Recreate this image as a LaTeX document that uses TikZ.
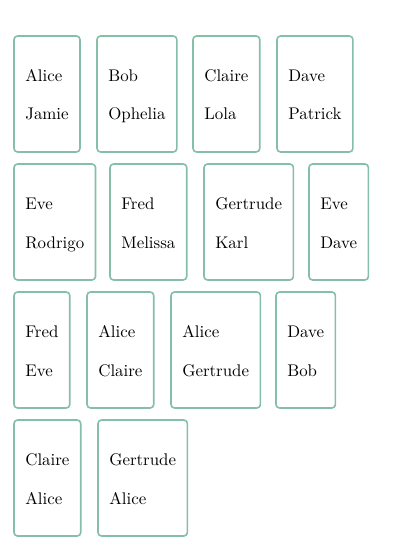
\documentclass[tikz,border=0pt]{standalone}
\usetikzlibrary{fit}
\definecolor{cardline}{RGB}{134,191,167}
\tikzset{
  nm/.style={anchor=base west, inner sep=0pt, font=\normalsize},
  card/.style={draw=cardline, line width=0.95pt, rounded corners=2.1pt, inner xsep=6.52pt, inner ysep=0pt}
}
\newcommand\mycard[5]{%
  \node[nm] (#1a) at (#2+11,#3+45.7) {#4};
  \node[nm] (#1b) at (#2+11,#3+84) {#5};
  \node[card, fit={(#1a)(#1b)(#2+11,#3)(#2+11,#3+116)}] (#1) {};
}
\begin{document}
\begin{tikzpicture}[x=0.593pt,y=-0.593pt]
\useasboundingbox (0,0) rectangle (400,550);
\mycard{c1}{14}{36}{Alice}{Jamie}
\mycard{c2}{97}{36}{Bob}{Ophelia}
\mycard{c3}{193}{36}{Claire}{Lola}
\mycard{c4}{277}{36}{Dave}{Patrick}
\mycard{c5}{14}{164}{Eve}{Rodrigo}
\mycard{c6}{110}{164}{Fred}{Melissa}
\mycard{c7}{204}{164}{Gertrude}{Karl}
\mycard{c8}{309}{164}{Eve}{Dave}
\mycard{c9}{14}{292}{Fred}{Eve}
\mycard{c10}{87}{292}{Alice}{Claire}
\mycard{c11}{171}{292}{Alice}{Gertrude}
\mycard{c12}{276}{292}{Dave}{Bob}
\mycard{c13}{14}{420}{Claire}{Alice}
\mycard{c14}{98}{420}{Gertrude}{Alice}
\end{tikzpicture}
\end{document}
